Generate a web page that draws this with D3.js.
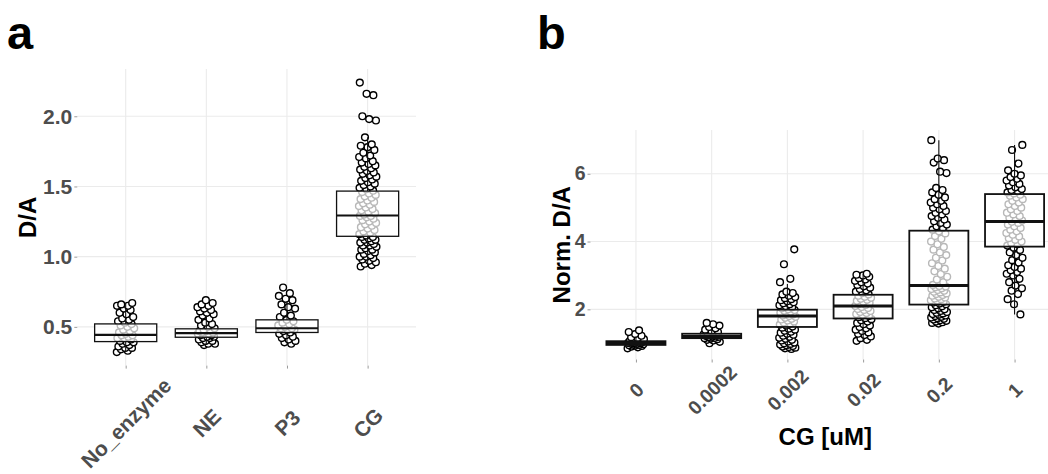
<!DOCTYPE html>
<html>
<head>
<meta charset="utf-8">
<script src="https://cdn.jsdelivr.net/npm/d3@7"></script>
<style>
  html, body { margin: 0; padding: 0; background: #fff; }
  svg { display: block; font-family: "Liberation Sans", Arial, sans-serif; }
</style>
</head>
<body>
<svg id="chart" width="1048" height="474"></svg>
<script>
// ---------------- Panel a data ----------------
const catsA = ["No_enzyme", "NE", "P3", "CG"];
const ptsNoEnzyme = [0.32,0.33,0.34,0.35,0.35,0.36,0.37,0.38,0.39,0.39,0.40,0.41,0.42,0.42,0.43,0.44,0.44,0.45,0.46,0.47,0.48,0.49,0.50,0.51,0.52,0.53,0.54,0.55,0.56,0.57,0.59,0.60,0.62,0.63,0.65,0.65,0.66,0.67];
const ptsNE = [0.37,0.38,0.38,0.39,0.40,0.40,0.41,0.42,0.42,0.43,0.43,0.44,0.44,0.45,0.45,0.45,0.46,0.46,0.47,0.47,0.48,0.48,0.49,0.50,0.51,0.52,0.53,0.55,0.56,0.58,0.59,0.60,0.61,0.62,0.63,0.64,0.65,0.66,0.67,0.69];
const ptsP3 = [0.38,0.39,0.40,0.41,0.42,0.43,0.44,0.45,0.46,0.47,0.48,0.48,0.49,0.49,0.50,0.51,0.52,0.53,0.54,0.55,0.57,0.58,0.60,0.63,0.64,0.66,0.69,0.70,0.72,0.74,0.78];
const ptsCG = [0.93,0.94,0.95,0.96,0.97,0.98,0.99,1.00,1.00,1.01,1.02,1.03,1.04,1.05,1.05,1.06,1.07,1.08,1.08,1.09,1.10,1.10,1.11,1.12,1.12,1.13,1.14,1.14,
  1.15,1.16,1.17,1.18,1.19,1.20,1.21,1.22,1.23,1.24,1.25,1.26,1.27,1.28,1.29,1.29,1.30,1.31,1.32,1.33,1.34,1.35,1.36,1.37,1.38,1.39,1.40,1.41,1.42,1.43,1.44,1.45,1.46,
  1.47,1.48,1.49,1.50,1.51,1.52,1.53,1.54,1.55,1.56,1.57,1.58,1.59,1.60,1.61,1.62,1.63,1.64,1.65,1.66,1.67,1.68,1.70,1.71,1.72,1.74,1.76,1.78,1.79,1.80,1.85,1.97,1.98,2.00,2.15,2.16,2.24];
const boxA_q1  = [0.395, 0.426, 0.46, 1.145];
const boxA_med = [0.443, 0.455, 0.49, 1.293];
const boxA_q3  = [0.521, 0.486, 0.55, 1.467];
const boxA_lo  = [0.32, 0.37, 0.38, 0.93];
const boxA_hi  = [0.67, 0.58, 0.68, 1.85];
const ticksA = [0.5, 1.0, 1.5, 2.0];

// ---------------- Panel b data ----------------
const catsB = ["0", "0.0002", "0.002", "0.02", "0.2", "1"];
const pts0 = [0.85,0.88,0.90,0.92,0.93,0.94,0.95,0.96,0.97,0.98,0.99,1.00,1.00,1.01,1.02,1.03,1.04,1.05,1.06,1.08,1.10,1.12,1.15,1.18,1.22,1.27,1.33,1.38];
const pts00002 = [1.00,1.04,1.08,1.10,1.12,1.14,1.15,1.16,1.18,1.19,1.20,1.21,1.22,1.24,1.26,1.28,1.30,1.33,1.36,1.40,1.44,1.48,1.52,1.56,1.60];
const pts0002 = [0.83,0.85,0.87,0.89,0.90,0.92,0.94,0.96,0.98,1.00,1.02,1.05,1.08,1.10,1.13,1.16,1.19,1.22,1.25,1.28,1.31,1.34,1.37,1.40,1.43,1.46,
  1.49,1.52,1.55,1.58,1.61,1.64,1.67,1.70,1.72,1.75,1.78,1.80,1.82,1.85,1.88,1.90,1.93,1.96,1.98,
  2.00,2.03,2.06,2.09,2.12,2.15,2.18,2.21,2.24,2.27,2.30,2.33,2.36,2.40,2.44,2.48,2.52,2.80,2.90,3.33,3.77];
const pts002 = [1.07,1.10,1.15,1.20,1.24,1.28,1.32,1.36,1.40,1.44,1.48,1.52,1.56,1.60,1.64,1.68,1.71,
  1.74,1.77,1.80,1.83,1.86,1.89,1.92,1.95,1.98,2.01,2.04,2.07,2.10,2.13,2.16,2.19,2.22,2.25,2.28,2.31,2.34,2.37,2.40,
  2.44,2.48,2.52,2.56,2.60,2.64,2.68,2.72,2.76,2.80,2.84,2.88,2.92,2.96,3.00,3.02,3.05];
const pts02 = [1.58,1.60,1.62,1.64,1.66,1.68,1.70,1.72,1.74,1.76,1.78,1.80,1.82,1.84,1.86,1.88,1.90,1.92,1.95,1.98,2.00,2.03,2.06,2.09,2.12,
  2.15,2.17,2.20,2.22,2.25,2.27,2.30,2.32,2.35,2.37,2.40,2.42,2.45,2.47,2.50,2.52,2.55,2.57,2.60,2.62,2.65,2.67,2.69,
  2.72,2.80,2.88,2.96,3.04,3.12,3.20,3.28,3.36,3.44,3.52,3.60,3.68,3.76,3.84,3.92,4.00,4.08,4.16,4.24,4.30,
  4.35,4.40,4.45,4.50,4.55,4.60,4.65,4.70,4.75,4.80,4.85,4.90,4.95,5.00,5.05,5.10,5.15,5.20,5.25,5.30,5.38,5.45,5.52,5.58,6.02,6.06,6.33,6.40,6.45,6.99];
const pts1 = [1.85,2.15,2.30,2.45,2.55,2.62,2.70,2.80,2.90,3.00,3.05,3.10,3.15,3.20,3.25,3.30,3.38,3.45,3.52,3.60,3.68,3.75,3.82,
  3.88,3.92,3.96,4.00,4.05,4.10,4.15,4.20,4.25,4.30,4.35,4.40,4.45,4.50,4.55,4.58,
  4.62,4.66,4.70,4.75,4.80,4.85,4.90,4.95,5.00,5.05,5.10,5.15,5.20,5.25,5.30,5.35,5.38,
  5.42,5.45,5.48,5.52,5.55,5.60,5.65,5.70,5.75,5.80,5.85,5.90,5.95,6.00,6.10,6.30,6.70,6.85];
const boxB_q1  = [0.95, 1.15, 1.48, 1.73, 2.14, 3.85];
const boxB_med = [1.00, 1.20, 1.80, 2.10, 2.70, 4.59];
const boxB_q3  = [1.06, 1.28, 1.99, 2.43, 4.32, 5.40];
const boxB_lo  = [0.85, 1.00, 0.83, 1.07, 1.58, 1.85];
const boxB_hi  = [1.20, 1.46, 2.75, 3.05, 6.99, 6.85];
const ticksB = [2, 4, 6];

const svg = d3.select("#chart");
const FONT = '"Liberation Sans", Arial, sans-serif';

function panel(cfg) {
  const g = svg.append("g");
  const x = d3.scalePoint().domain(cfg.cats).range([cfg.left, cfg.right]).padding(0.6);
  const y = d3.scaleLinear().domain(cfg.ydom).range([cfg.bottom, cfg.top]);
  const step = x.step();

  // grid
  g.append("g").selectAll("line.h").data(cfg.ticks).join("line")
    .attr("x1", cfg.left).attr("x2", cfg.right)
    .attr("y1", d => y(d)).attr("y2", d => y(d))
    .attr("stroke", "#ebebeb").attr("stroke-width", 1.1);
  g.append("g").selectAll("line.v").data(cfg.cats).join("line")
    .attr("x1", d => x(d)).attr("x2", d => x(d))
    .attr("y1", cfg.top).attr("y2", cfg.bottom)
    .attr("stroke", "#ebebeb").attr("stroke-width", 1.1);

  // y axis
  const ya = g.append("g").attr("transform", `translate(${cfg.left},0)`)
    .call(d3.axisLeft(y).tickValues(cfg.ticks).tickFormat(cfg.tickFmt).tickSize(3).tickPadding(2));
  ya.select(".domain").remove();
  ya.selectAll(".tick line").attr("stroke", "#9a9a9a").attr("stroke-width", 1);
  ya.selectAll(".tick text").attr("fill", "#4d4d4d").attr("font-size", cfg.tickFont)
    .attr("font-weight", "bold").attr("font-family", FONT);

  // x axis
  const xa = g.append("g").attr("transform", `translate(0,${cfg.bottom})`)
    .call(d3.axisBottom(x).tickSize(3));
  xa.select(".domain").remove();
  xa.selectAll(".tick line").attr("stroke", "#9a9a9a").attr("stroke-width", 1);
  xa.selectAll(".tick text").attr("fill", "#4d4d4d").attr("font-size", cfg.tickFont)
    .attr("font-weight", "bold").attr("font-family", FONT)
    .attr("text-anchor", "middle").attr("y", 0).attr("dy", "0.35em")
    .attr("transform", `translate(0,${cfg.xLabY - cfg.bottom}) rotate(-45)`);

  // points (jittered deterministically)
  cfg.series.forEach((vals, gi) => {
    const cx = x(cfg.cats[gi]);
    g.append("g").selectAll("circle").data(vals).join("circle")
      .attr("cx", (d, i) => cx + ((((i * 0.618034 + gi * 0.37) % 1) - 0.5) * 2 * 0.11 * step))
      .attr("cy", d => y(d))
      .attr("r", cfg.r)
      .attr("fill", "#fff").attr("stroke", "#000").attr("stroke-width", 1.4);
  });

  // boxplots
  const bw = cfg.boxW * step;
  cfg.cats.forEach((c, i) => {
    const cx = x(c);
    const bg = g.append("g");
    bg.append("line").attr("x1", cx).attr("x2", cx)
      .attr("y1", y(cfg.q3[i])).attr("y2", y(cfg.hi[i]))
      .attr("stroke", "#111").attr("stroke-width", 1.1);
    bg.append("line").attr("x1", cx).attr("x2", cx)
      .attr("y1", y(cfg.q1[i])).attr("y2", y(cfg.lo[i]))
      .attr("stroke", "#111").attr("stroke-width", 1.1);
    bg.append("rect").attr("x", cx - bw / 2).attr("width", bw)
      .attr("y", y(cfg.q3[i])).attr("height", y(cfg.q1[i]) - y(cfg.q3[i]))
      .attr("fill", "#fff").attr("fill-opacity", 0.72)
      .attr("stroke", "#111").attr("stroke-width", cfg.boxStroke);
    bg.append("line").attr("x1", cx - bw / 2).attr("x2", cx + bw / 2)
      .attr("y1", y(cfg.med[i])).attr("y2", y(cfg.med[i]))
      .attr("stroke", "#111").attr("stroke-width", cfg.medStroke);
  });

  // axis titles
  g.append("text")
    .attr("transform", `translate(${cfg.yTitleX},${(cfg.top + cfg.bottom) / 2}) rotate(-90)`)
    .attr("text-anchor", "middle").attr("dy", "0.35em")
    .attr("font-family", FONT).attr("font-weight", "bold").attr("font-size", 24)
    .attr("fill", "#000").text(cfg.yTitle);
  if (cfg.xTitle) {
    g.append("text").attr("x", (cfg.left + cfg.right) / 2).attr("y", cfg.xTitleY)
      .attr("text-anchor", "middle").attr("dy", "0.35em")
      .attr("font-family", FONT).attr("font-weight", "bold").attr("font-size", 24)
      .attr("fill", "#000").text(cfg.xTitle);
  }
  // panel letter
  g.append("text").attr("x", cfg.letterX).attr("y", 49)
    .attr("font-family", FONT).attr("font-weight", "bold").attr("font-size", 47)
    .attr("fill", "#000").text(cfg.letter);
}

panel({
  cats: catsA, series: [ptsNoEnzyme, ptsNE, ptsP3, ptsCG],
  q1: boxA_q1, med: boxA_med, q3: boxA_q3, lo: boxA_lo, hi: boxA_hi,
  ticks: ticksA, tickFmt: d3.format(".1f"),
  left: 77.3, right: 416, top: 69.1, bottom: 365.6, ydom: [0.224, 2.336],
  tickFont: 21, xLabY: 423, r: 3.4, boxW: 0.77, boxStroke: 1.3, medStroke: 2.2,
  yTitle: "D/A", yTitleX: 28, letter: "a", letterX: 7
});

panel({
  cats: catsB, series: [pts0, pts00002, pts0002, pts002, pts02, pts1],
  q1: boxB_q1, med: boxB_med, q3: boxB_q3, lo: boxB_lo, hi: boxB_hi,
  ticks: ticksB, tickFmt: d3.format("d"),
  left: 590.5, right: 1060, top: 130, bottom: 359.5, ydom: [0.52, 7.29],
  tickFont: 19.5, xLabY: 390, r: 3.4, boxW: 0.78, boxStroke: 1.8, medStroke: 3,
  yTitle: "Norm. D/A", yTitleX: 562, xTitle: "CG [uM]", xTitleY: 437, letter: "b", letterX: 537
});
</script>
</body>
</html>
